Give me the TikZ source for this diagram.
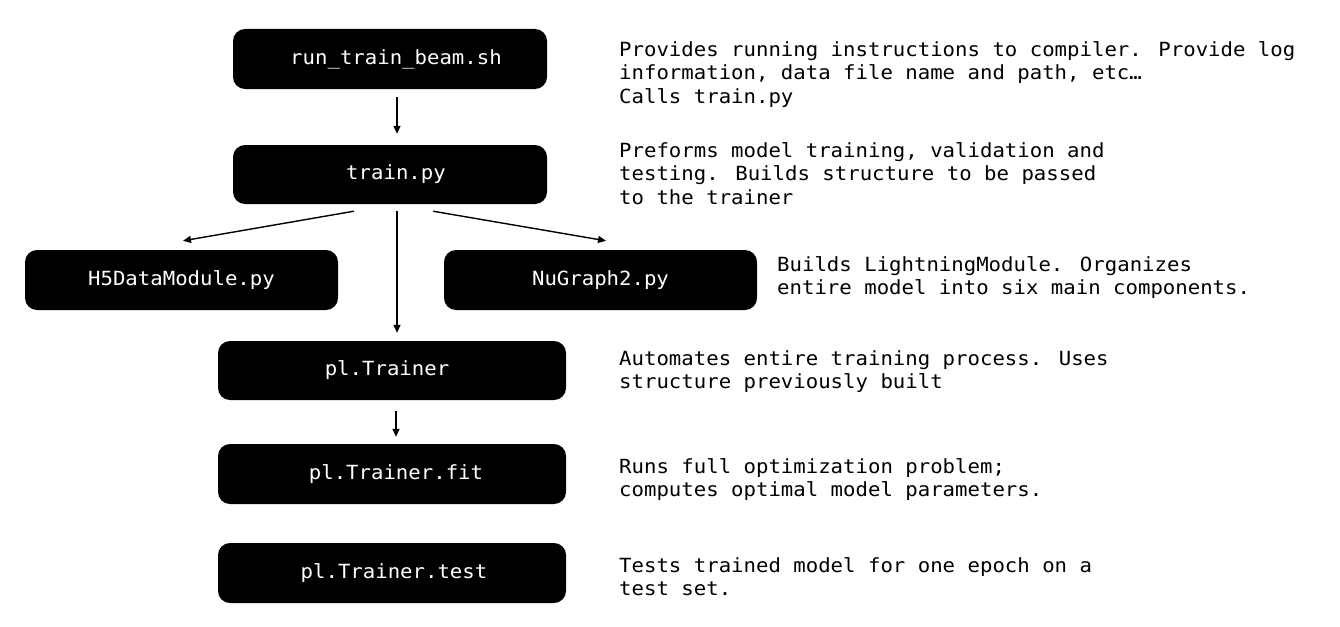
\documentclass[tikz,border=0pt]{standalone}
\usepackage{fontspec}
\newfontfamily\codefont[FakeStretch=1.06]{DejaVu Sans Mono}
\usetikzlibrary{calc,arrows.meta}
\tikzset{
  box/.style={draw=none, fill=black, rounded corners=12pt, text=white,
    font=\codefont\fontsize{19.5}{23.6}\selectfont, inner sep=0pt},
  desc/.style={anchor=base west, align=left, inner sep=0pt,
    font=\codefont\fontsize{19.5}{23.6}\selectfont},
  arr/.style={line width=1.4pt, -{Triangle[length=8pt,width=7pt]}}
}
\begin{document}
\begin{tikzpicture}[x=1pt,y=-1pt]
\useasboundingbox (0,0) rectangle (1340,626);
\node[box, minimum width=314pt, minimum height=60pt] (b1) at (390,59) {\hspace*{12pt}run\char95 train\char95 beam.sh};
\node[box, minimum width=314pt, minimum height=59pt] (b2) at (390,174.5) {\hspace*{12pt}train.py};
\node[box, minimum width=313pt, minimum height=60pt] (h5) at (181.5,280) {H5DataModule.py};
\node[box, minimum width=313pt, minimum height=60pt] (nu) at (600.5,280) {NuGraph2.py};
\node[box, minimum width=348pt, minimum height=59pt] (tr) at (392,370.5) {pl.Trainer\hspace*{10pt}};
\node[box, minimum width=348pt, minimum height=60pt] (fit) at (392,474) {\hspace*{8pt}pl.Trainer.fit};
\node[box, minimum width=348pt, minimum height=60pt] (tst) at (392,573) {\hspace*{4pt}pl.Trainer.test};

\draw[arr] ($(b1.south)+(7,8)$) -- ($(b2.north)+(7,-11)$);
\draw[arr] ($(b2.south)+(-36,7)$) -- ($(h5.north)+(1.5,-9)$);
\draw[arr] ($(b2.south)+(43,7)$) -- ($(nu.north)+(5.5,-9)$);
\draw[arr] ($(b2.south)+(7,7)$) -- ($(tr.north)+(5,-8)$);
\draw[arr] ($(tr.south)+(4,11)$) -- ($(fit.north)+(4,-7)$);

\node[desc] (d1) at (619,103.2) {Provides running instructions to compiler. Provide log\\information, data file name and path, etc…\\Calls train.py};
\node[desc] (d2) at (619,204.2) {Preforms model training, validation and\\testing. Builds structure to be passed\\to the trainer};
\node[desc] (d3) at (777,294.6) {Builds LightningModule. Organizes\\entire model into six main components.};
\node[desc] (d4) at (619,388.6) {Automates entire training process. Uses\\structure previously built};
\node[desc] (d5) at (619,496.6) {Runs full optimization problem;\\computes optimal model parameters.};
\node[desc] (d6) at (619,595.6) {Tests trained model for one epoch on a\\test set.};
\end{tikzpicture}
\end{document}
